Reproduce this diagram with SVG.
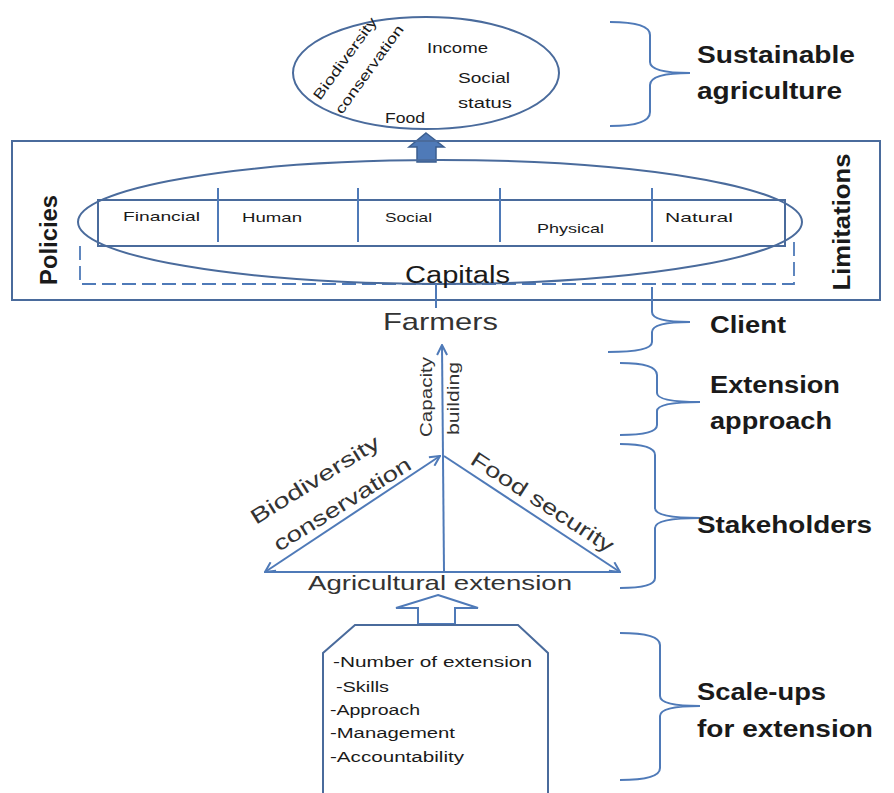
<svg xmlns="http://www.w3.org/2000/svg" width="894" height="793" viewBox="0 0 894 793">
<style>
.ln{fill:none;stroke:#4f7ab8;stroke-width:2}
.dk{fill:none;stroke:#4a6b9c;stroke-width:2}
.t{font-family:"Liberation Sans",Arial,sans-serif;fill:#1a1a1a}
.b{font-weight:bold}
.s{font-size:13px}
.m{font-size:14px}
.l{font-size:23px}
.g{fill:#333}
</style>
<defs>
<marker id="ah" viewBox="0 0 12 12" refX="11" refY="6" markerWidth="12" markerHeight="12" markerUnits="userSpaceOnUse" orient="auto-start-reverse">
<path d="M1 1 L11 6 L1 11" fill="none" stroke="#4f7ab8" stroke-width="2"/>
</marker>
</defs>
<rect width="894" height="793" fill="#fff"/>

<g id="sustainable-ellipse">
<ellipse cx="426" cy="73" rx="133" ry="56" class="dk"/>
<text class="t m" transform="translate(320,101) rotate(-54)" textLength="98" lengthAdjust="spacingAndGlyphs">Biodiversity</text>
<text class="t m" transform="translate(342,115) rotate(-54)" textLength="106" lengthAdjust="spacingAndGlyphs">conservation</text>
<text class="t m" x="427" y="53" textLength="61" lengthAdjust="spacingAndGlyphs">Income</text>
<text class="t m" x="458" y="83" textLength="52" lengthAdjust="spacingAndGlyphs">Social</text>
<text class="t m" x="458" y="108" textLength="54" lengthAdjust="spacingAndGlyphs">status</text>
<text class="t m" x="385" y="123" textLength="40" lengthAdjust="spacingAndGlyphs">Food</text>
</g>

<g id="solid-arrow">
<polygon points="426,133 444,147 436,147 436,162 417,162 417,147 409,147" fill="#4f7ab8" stroke="#3b5e8f" stroke-width="1.5"/>
</g>

<g id="policy-frame">
<rect x="12" y="141" width="868" height="159" class="dk"/>
<text class="t b" font-size="24" transform="translate(57,240) rotate(-90)" text-anchor="middle" textLength="90" lengthAdjust="spacingAndGlyphs">Policies</text>
<text class="t b" font-size="24" transform="translate(850,222) rotate(-90)" text-anchor="middle" textLength="137" lengthAdjust="spacingAndGlyphs">Limitations</text>
</g>

<g id="capitals">
<path d="M80 246 V284 H794 V240" fill="none" stroke="#4f7ab8" stroke-width="1.8" stroke-dasharray="14 6"/>
<ellipse cx="440" cy="222" rx="362" ry="62" class="dk"/>
<rect x="98" y="200" width="687" height="46" class="dk"/>
<path d="M218 188 V242 M358 188 V242 M500 188 V242 M652 188 V242" class="ln"/>
<text class="t s" x="123" y="221" textLength="77" lengthAdjust="spacingAndGlyphs">Financial</text>
<text class="t s" x="242" y="222" textLength="60" lengthAdjust="spacingAndGlyphs">Human</text>
<text class="t s" x="385" y="222" textLength="47" lengthAdjust="spacingAndGlyphs">Social</text>
<text class="t s" x="537" y="233" textLength="67" lengthAdjust="spacingAndGlyphs">Physical</text>
<text class="t s" x="665" y="222" textLength="68" lengthAdjust="spacingAndGlyphs">Natural</text>
<text class="t" font-size="23" x="405" y="283" textLength="105" lengthAdjust="spacingAndGlyphs">Capitals</text>
</g>

<g id="farmers">
<text class="t g" font-size="24" x="383" y="330" textLength="115" lengthAdjust="spacingAndGlyphs">Farmers</text>
</g>

<g id="connectors">
<line x1="436" y1="284" x2="436" y2="308" class="ln"/>
<path d="M444 572 L442 345" class="ln" marker-end="url(#ah)"/>
<line x1="265" y1="572" x2="620" y2="572" class="ln"/>
<line x1="265" y1="572" x2="440" y2="456" class="ln" marker-start="url(#ah)" marker-end="url(#ah)"/>
<line x1="444" y1="456" x2="620" y2="572" class="ln" marker-end="url(#ah)"/>
</g>

<g id="stakeholder-labels">
<text class="t g" font-size="16" transform="translate(432,437) rotate(-90)" textLength="80" lengthAdjust="spacingAndGlyphs">Capacity</text>
<text class="t g" font-size="16" transform="translate(459,435) rotate(-90)" textLength="73" lengthAdjust="spacingAndGlyphs">building</text>
<text class="t g" font-size="21" transform="translate(256,525) rotate(-32)" textLength="148" lengthAdjust="spacingAndGlyphs">Biodiversity</text>
<text class="t g" font-size="21" transform="translate(279,552) rotate(-32)" textLength="158" lengthAdjust="spacingAndGlyphs">conservation</text>
<text class="t g" font-size="21" transform="translate(469,463) rotate(33)" textLength="166" lengthAdjust="spacingAndGlyphs">Food security</text>
<text class="t g" font-size="21" x="308" y="590" textLength="264" lengthAdjust="spacingAndGlyphs">Agricultural extension</text>
</g>

<g id="scale-ups-box">
<polygon points="438,595 478,608 455,608 455,624 418,624 418,608 396,608" fill="#fff" stroke="#4f7ab8" stroke-width="2"/>
<path d="M323 793 V653 L355 625 H518 L548 653 V793" class="dk"/>
<text class="t m" x="333" y="667" textLength="199" lengthAdjust="spacingAndGlyphs">-Number of extension</text>
<text class="t m" x="336" y="692" textLength="53" lengthAdjust="spacingAndGlyphs">-Skills</text>
<text class="t m" x="330" y="715" textLength="90" lengthAdjust="spacingAndGlyphs">-Approach</text>
<text class="t m" x="330" y="738" textLength="125" lengthAdjust="spacingAndGlyphs">-Management</text>
<text class="t m" x="330" y="762" textLength="134" lengthAdjust="spacingAndGlyphs">-Accountability</text>
</g>

<g id="braces">
<path d="M610 22 Q650 22 650 35 V62 Q650 73 690 73 Q650 73 650 85 V112 Q650 126 610 126" class="ln"/>
<path d="M652 287 V312 Q652 322 690 322 Q652 322 652 332 V342 Q652 352 608 352" class="ln"/>
<path d="M620 363 Q657 363 657 375 V393 Q657 402 700 402 Q657 402 657 411 V425 Q657 435 620 435" class="ln"/>
<path d="M620 444 Q655 444 655 455 V508 Q655 518 700 518 Q655 518 655 528 V578 Q655 588 620 588" class="ln"/>
<path d="M620 633 Q660 633 660 645 V696 Q660 706 700 706 Q660 706 660 716 V768 Q660 780 620 780" class="ln"/>
</g>

<g id="level-labels">
<text class="t b l" x="697" y="63" textLength="158" lengthAdjust="spacingAndGlyphs">Sustainable</text>
<text class="t b l" x="697" y="99" textLength="145" lengthAdjust="spacingAndGlyphs">agriculture</text>
<text class="t b l" x="710" y="333" textLength="76" lengthAdjust="spacingAndGlyphs">Client</text>
<text class="t b l" x="710" y="393" textLength="130" lengthAdjust="spacingAndGlyphs">Extension</text>
<text class="t b l" x="710" y="429" textLength="122" lengthAdjust="spacingAndGlyphs">approach</text>
<text class="t b l" x="697" y="533" textLength="175" lengthAdjust="spacingAndGlyphs">Stakeholders</text>
<text class="t b l" x="697" y="700" textLength="129" lengthAdjust="spacingAndGlyphs">Scale-ups</text>
<text class="t b l" x="697" y="737" textLength="176" lengthAdjust="spacingAndGlyphs">for extension</text>
</g>
</svg>
